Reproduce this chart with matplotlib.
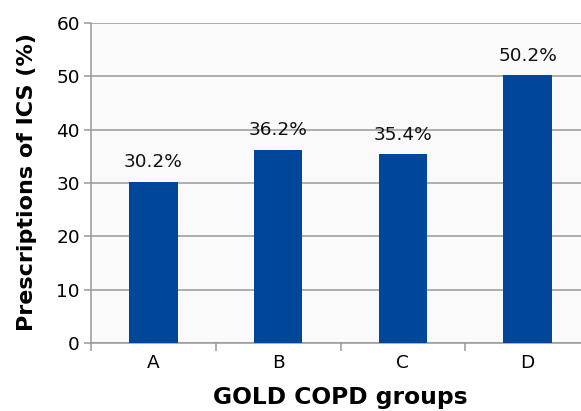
import matplotlib
matplotlib.use("Agg")
import matplotlib.pyplot as plt
import numpy as np

categories = ["A", "B", "C", "D"]
values = [30.2, 36.2, 35.4, 50.2]
labels = ["30.2%", "36.2%", "35.4%", "50.2%"]
yticks = [0, 10, 20, 30, 40, 50, 60]

plt.rcParams['font.family'] = ['DejaVu Sans']

W, H = 581, 411
fig = plt.figure(figsize=(W/100, H/100), dpi=100)
left, right, top, bottom = 91, 590, 23, 343
ax = fig.add_axes([left/W, 1 - bottom/H, (right-left)/W, (bottom-top)/H])
ax.set_facecolor("#fafafa")

x = np.arange(len(categories))
ax.bar(x, values, width=0.39, color="#00479b", zorder=3)
for xi, v, lab in zip(x, values, labels):
    ax.text(xi, v + 2.0, lab, ha="center", va="bottom", fontsize=13.3, color="#111111", zorder=4)

ax.set_xlim(-0.5, 3.5)
ax.set_ylim(0, 60)
ax.set_yticks(yticks)
ax.set_yticklabels([str(t) for t in yticks], fontsize=13.3)
ax.yaxis.grid(True, color="#999999", linewidth=1.1, zorder=1)
ax.set_xticks(x)
ax.set_xticklabels(categories, fontsize=13.3)
ax.set_xticks(np.arange(-0.5, 3.6, 1.0), minor=True)
ax.tick_params(axis="x", which="major", length=0, pad=8)
ax.tick_params(axis="x", which="minor", length=6, color="#999999", width=1.1)
ax.tick_params(axis="y", length=5, color="#999999", width=1.1, pad=3)

for s in ["top", "right"]:
    ax.spines[s].set_visible(False)
for s in ["left", "bottom"]:
    ax.spines[s].set_color("#999999")
    ax.spines[s].set_linewidth(1.1)

ax.set_ylabel("Prescriptions of ICS (%)", fontsize=16, fontweight="bold")
ax.set_xlabel("GOLD COPD groups", fontsize=16.8, fontweight="bold")
ax.yaxis.set_label_coords(-(91 - 27)/(right-left), (343 - 182)/(bottom-top))
ax.yaxis.label.set_va("center")
ax.xaxis.set_label_coords((340 - left)/(right-left), -(397-343)/(bottom-top))
ax.xaxis.label.set_va("center")

fig.savefig("out.png", dpi=100)
